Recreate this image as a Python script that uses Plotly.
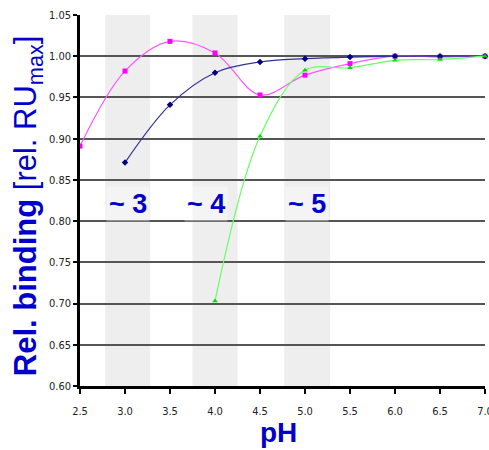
import plotly.graph_objects as go

# ---- data ----
ph_pink = [2.5, 3.0, 3.5, 4.0, 4.5, 5.0, 5.5, 6.0, 6.5, 7.0]
rel_pink = [0.891, 0.982, 1.018, 1.004, 0.953, 0.977, 0.991, 1.000, 0.999, 1.000]

ph_navy = [3.0, 3.5, 4.0, 4.5, 5.0, 5.5, 6.0, 6.5, 7.0]
rel_navy = [0.871, 0.941, 0.980, 0.993, 0.997, 0.999, 1.000, 1.000, 1.000]

ph_green = [4.0, 4.5, 5.0, 5.5, 6.0, 6.5, 7.0]
rel_green = [0.703, 0.903, 0.983, 0.986, 0.995, 0.996, 1.000]

band_ranges = [(2.78, 3.28), (3.75, 4.25), (4.77, 5.28)]
band_labels = ["~ 3", "~ 4", "~ 5"]
band_label_x = [3.03, 3.9, 5.02]
band_label_y = 0.821

x_ticks = [2.5, 3.0, 3.5, 4.0, 4.5, 5.0, 5.5, 6.0, 6.5, 7.0]
y_ticks = [0.60, 0.65, 0.70, 0.75, 0.80, 0.85, 0.90, 0.95, 1.00, 1.05]

BLUE = "#0000CC"

fig = go.Figure()

fig.add_trace(go.Scatter(
    x=ph_pink, y=rel_pink, mode="lines+markers", name="pink",
    line=dict(color="#FF55FF", width=1.2, shape="spline", smoothing=1.0),
    marker=dict(symbol="square", size=5, color="#FF00FF"),
    cliponaxis=False,
))
fig.add_trace(go.Scatter(
    x=ph_navy, y=rel_navy, mode="lines+markers", name="navy",
    line=dict(color="#333399", width=1.2, shape="spline", smoothing=1.0),
    marker=dict(symbol="diamond", size=5, color="#000080"),
    cliponaxis=False,
))
fig.add_trace(go.Scatter(
    x=ph_green, y=rel_green, mode="lines+markers", name="green",
    line=dict(color="#66FF66", width=1.2, shape="spline", smoothing=1.0),
    marker=dict(symbol="triangle-up", size=5, color="#00DD00"),
    cliponaxis=False,
))

shapes = []
for x0, x1 in band_ranges:
    shapes.append(dict(type="rect", xref="x", yref="paper", x0=x0, x1=x1, y0=0, y1=1,
                       fillcolor="#EEEEEE", line=dict(width=0), layer="below"))

annotations = []
for lbl, lx in zip(band_labels, band_label_x):
    annotations.append(dict(x=lx, y=band_label_y, xref="x", yref="y", text=lbl,
                            showarrow=False, font=dict(family="Liberation Sans, Arial, sans-serif",
                                                       size=27, color=BLUE, weight="bold"),
                            bgcolor="rgba(255,255,255,0.35)", borderpad=2,
                            xanchor="center", yanchor="middle"))

annotations.append(dict(
    x=-0.128, y=0.485, xref="paper", yref="paper", textangle=-90,
    text="<b>Rel. binding</b> [rel. RU<sub>max</sub>]", showarrow=False,
    font=dict(family="Liberation Sans, Arial, sans-serif", size=31, color=BLUE),
    xanchor="center", yanchor="middle"))
annotations.append(dict(
    x=0.49, y=-0.125, xref="paper", yref="paper",
    text="<b>pH</b>", showarrow=False,
    font=dict(family="Liberation Sans, Arial, sans-serif", size=28, color=BLUE),
    xanchor="center", yanchor="middle"))

tick_font = dict(family="DejaVu Sans Condensed, Liberation Sans Narrow, Roboto Condensed, DejaVu Sans, sans-serif",
                 size=11, color="#222222")

fig.update_layout(
    width=489, height=450, autosize=False,
    margin=dict(l=80, r=4, t=15, b=64),
    paper_bgcolor="white", plot_bgcolor="white",
    showlegend=False,
    shapes=shapes, annotations=annotations,
    xaxis=dict(range=[2.5, 7.0], tickvals=x_ticks, ticktext=[f"{v:.1f}" for v in x_ticks],
               showgrid=False, zeroline=False, showline=True, linecolor="black", linewidth=3,
               ticks="outside", ticklen=5, tickwidth=2, tickcolor="black", automargin=False,
               tickfont=tick_font, ticklabelstandoff=8, ticklabeloverflow="allow"),
    yaxis=dict(range=[0.60, 1.05], tickvals=y_ticks, ticktext=[f"{v:.2f}" for v in y_ticks],
               showgrid=True, gridcolor="#555555", gridwidth=1.5, zeroline=False,
               showline=True, linecolor="black", linewidth=2.5, automargin=False,
               ticks="outside", ticklen=4, tickwidth=2, tickcolor="black",
               tickfont=tick_font),
)

fig.write_html("out.html")
